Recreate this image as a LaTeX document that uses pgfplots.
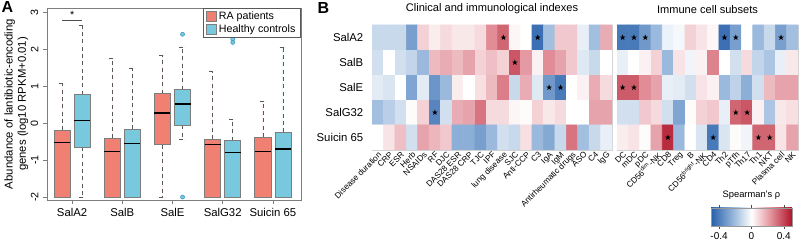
\documentclass[border=0pt]{standalone}
\usepackage{pgfplots}
\pgfplotsset{compat=1.18}
\usepgfplotslibrary{statistics}
\usepackage{fontspec}
\setmainfont{Liberation Sans}
\definecolor{ra}{RGB}{240,128,114}
\definecolor{hc}{RGB}{120,200,222}
\definecolor{hcdark}{RGB}{70,160,195}
\definecolor{frame}{RGB}{125,125,125}
\pgfplotsset{colormap={rdbu}{rgb255(0cm)=(40,95,170) rgb255(1cm)=(140,175,215) rgb255(2cm)=(255,255,255) rgb255(3cm)=(225,140,150) rgb255(4cm)=(175,20,40)}}
\pgfdeclareplotmark{fstar}{%
  \pgfpathmoveto{\pgfpointpolar{90}{\pgfplotmarksize}}%
  \pgfpathlineto{\pgfpointpolar{126}{0.4\pgfplotmarksize}}%
  \pgfpathlineto{\pgfpointpolar{162}{\pgfplotmarksize}}%
  \pgfpathlineto{\pgfpointpolar{198}{0.4\pgfplotmarksize}}%
  \pgfpathlineto{\pgfpointpolar{234}{\pgfplotmarksize}}%
  \pgfpathlineto{\pgfpointpolar{270}{0.4\pgfplotmarksize}}%
  \pgfpathlineto{\pgfpointpolar{306}{\pgfplotmarksize}}%
  \pgfpathlineto{\pgfpointpolar{342}{0.4\pgfplotmarksize}}%
  \pgfpathlineto{\pgfpointpolar{18}{\pgfplotmarksize}}%
  \pgfpathlineto{\pgfpointpolar{54}{0.4\pgfplotmarksize}}%
  \pgfpathclose
  \pgfusepathqfill}
\begin{document}
\begin{tikzpicture}
\useasboundingbox (0pt,0pt) rectangle (600pt,-183.75pt);
\node[anchor=north west, font=\bfseries\fontsize{12}{13}\selectfont, inner sep=0pt] at (1pt,-1pt) {A};
\node[anchor=north west, font=\bfseries\fontsize{12}{13}\selectfont, inner sep=0pt] at (238pt,-2pt) {B};
% ---------------- Panel A ----------------
\begin{axis}[
  at={(35.25pt,-150pt)}, anchor=south west, scale only axis,
  width=190.5pt, height=144pt,
  xmin=0.5, xmax=5.56, ymin=-2.08, ymax=3.11,
  xtick={1,2,3,4,5}, xticklabels={SalA2,SalB,SalE,SalG32,Suicin 65},
  ytick={-2,-1,0,1,2,3},
  xtick pos=bottom, ytick pos=left, tick align=outside, major tick length=3pt,
  tick style={frame, line width=0.5pt}, axis line style={frame, line width=0.6pt},
  yticklabel style={rotate=90, anchor=south, font=\fontsize{8}{9}\selectfont},
  xticklabel style={font=\fontsize{8.5}{10}\selectfont},
  /pgf/number format/assume math mode=true,
  ylabel={Abundance of lantibiotic-encoding\\genes (log10 RPKM+0.01)},
  ylabel style={align=center, font=\fontsize{8.5}{10}\selectfont, at={(axis description cs:-0.055,0.5)}, anchor=south, rotate=0},
  boxplot/draw direction=y,
  boxplot/box extend=0.32, boxplot/whisker extend=0.13,
  boxplot/every box/.style={draw=frame, line width=0.5pt},
  boxplot/every whisker/.style={draw=black!65, dash pattern=on 3pt off 2.5pt, line width=0.5pt},
  boxplot/every median/.style={draw=black, line width=1.1pt},
  legend image code/.code={\draw[#1] (0pt,-3.6pt) rectangle (7.2pt,3.6pt);},
  legend style={at={(1,1)}, anchor=north east, draw=black!65, font=\fontsize{8}{9}\selectfont,
    inner xsep=2pt, inner ysep=0.5pt, row sep=-1.5pt, cells={anchor=west}},
]
\addlegendimage{fill=ra, draw=frame}
\addlegendentry{RA patients}
\addlegendimage{fill=hc, draw=frame}
\addlegendentry{Healthy controls}
% SalA2
\addplot[boxplot prepared={draw position=0.8, lower whisker=-2, lower quartile=-2, median=-0.53, upper quartile=-0.2, upper whisker=1.08}, fill=ra, draw=frame, forget plot] coordinates {};
\addplot[boxplot prepared={draw position=1.2, lower whisker=-2, lower quartile=-0.65, median=0.07, upper quartile=0.77, upper whisker=2.65}, fill=hc, draw=frame, forget plot] coordinates {};
% SalB
\addplot[boxplot prepared={draw position=1.8, lower whisker=-2, lower quartile=-2, median=-0.77, upper quartile=-0.4, upper whisker=1.75}, fill=ra, draw=frame, forget plot] coordinates {};
\addplot[boxplot prepared={draw position=2.2, lower whisker=-2, lower quartile=-2, median=-0.55, upper quartile=-0.17, upper whisker=1.48}, fill=hc, draw=frame, forget plot] coordinates {};
% SalE
\addplot[boxplot prepared={draw position=2.8, lower whisker=-2, lower quartile=-0.58, median=0.27, upper quartile=0.79, upper whisker=1.82}, fill=ra, draw=frame, forget plot] coordinates {};
\addplot[boxplot prepared={draw position=3.2, lower whisker=-0.45, lower quartile=-0.06, median=0.51, upper quartile=0.9, upper whisker=2.06}, fill=hc, draw=frame, mark=*, mark size=1.5pt, mark options={draw=hcdark, fill=hc, solid, line width=0.5pt}, forget plot] coordinates {(0,2.4) (0,-2)};
% SalG32
\addplot[boxplot prepared={draw position=3.8, lower whisker=-2, lower quartile=-2, median=-0.58, upper quartile=-0.43, upper whisker=1.41}, fill=ra, draw=frame, forget plot] coordinates {};
\addplot[boxplot prepared={draw position=4.2, lower whisker=-2, lower quartile=-2, median=-0.80, upper quartile=-0.48, upper whisker=0.10}, fill=hc, draw=frame, mark=*, mark size=1.5pt, mark options={draw=hcdark, fill=hc, solid, line width=0.5pt}, forget plot] coordinates {(0,2.27) (0,2.18)};
% Suicin 65
\addplot[boxplot prepared={draw position=4.8, lower whisker=-2, lower quartile=-2, median=-0.77, upper quartile=-0.38, upper whisker=0.58}, fill=ra, draw=frame, forget plot] coordinates {};
\addplot[boxplot prepared={draw position=5.2, lower whisker=-2, lower quartile=-2, median=-0.70, upper quartile=-0.25, upper whisker=2.04}, fill=hc, draw=frame, forget plot] coordinates {};
% significance
\addplot[black!70, line width=0.6pt, forget plot] coordinates {(0.8,2.78) (1.2,2.78)};
\node[font=\fontsize{8}{9}\selectfont] at (axis cs:1,2.93) {*};
\end{axis}
% ---------------- Panel B left ----------------
\begin{axis}[
  at={(279pt,-112.5pt)}, anchor=south west, scale only axis,
  width=180pt, height=93.75pt,
  xmin=-0.5, xmax=20.5, ymin=-0.5, ymax=4.5, y dir=reverse, enlargelimits=false,
  colormap name=rdbu, point meta min=-0.5, point meta max=0.5,
  xtick={0,...,20},
  xticklabels={Disease duration,CRP,ESR,Herb,NSAIDs,RF,DJC,DAS28 ESR,DAS28 CRP,TJC,IPF,lung disease,SJC,Anti-CCP,C3,IgA,IgM,Antirheumatic drugs,ASO,C4,IgG},
  ytick={0,...,4}, yticklabels={SalA2,SalB,SalE,SalG32,Suicin 65},
  major tick length=0pt, tick style={draw=none}, axis line style={gray!35},
  xticklabel style={rotate=45, anchor=north east, inner sep=0.5pt, font=\fontsize{6.2}{7}\selectfont},
  yticklabel style={font=\fontsize{8.5}{10}\selectfont, xshift=-3pt},
  title={Clinical and immunological indexes}, title style={font=\fontsize{8.3}{10}\selectfont, yshift=-1pt},
]
\addplot[matrix plot*, mesh/cols=21, mesh/rows=5, point meta=explicit] table[row sep=\\, meta=c] {
x y c\\
0 0 -0.12\\ 1 0 -0.12\\ 2 0 -0.12\\ 3 0 -0.30\\ 4 0 0.10\\ 5 0 0.04\\ 6 0 0.08\\ 7 0 0.05\\ 8 0 0.05\\ 9 0 0.08\\ 10 0 0.25\\ 11 0 0.33\\ 12 0 0.02\\ 13 0 0.00\\ 14 0 -0.45\\ 15 0 -0.20\\ 16 0 0.12\\ 17 0 0.12\\ 18 0 -0.05\\ 19 0 -0.20\\ 20 0 0.18\\
0 1 -0.10\\ 1 1 0.00\\ 2 1 -0.10\\ 3 1 -0.13\\ 4 1 -0.22\\ 5 1 0.15\\ 6 1 0.18\\ 7 1 0.15\\ 8 1 0.20\\ 9 1 0.10\\ 10 1 0.14\\ 11 1 0.10\\ 12 1 0.36\\ 13 1 0.22\\ 14 1 0.03\\ 15 1 0.25\\ 16 1 0.20\\ 17 1 0.12\\ 18 1 -0.07\\ 19 1 -0.12\\ 20 1 0.00\\
0 2 -0.06\\ 1 2 -0.08\\ 2 2 0.00\\ 3 2 -0.28\\ 4 2 -0.06\\ 5 2 -0.33\\ 6 2 -0.22\\ 7 2 0.04\\ 8 2 0.00\\ 9 2 0.07\\ 10 2 0.15\\ 11 2 0.28\\ 12 2 -0.12\\ 13 2 0.18\\ 14 2 -0.07\\ 15 2 -0.32\\ 16 2 -0.42\\ 17 2 0.00\\ 18 2 0.03\\ 19 2 0.18\\ 20 2 0.08\\
0 3 -0.20\\ 1 3 -0.15\\ 2 3 -0.10\\ 3 3 0.01\\ 4 3 0.10\\ 5 3 -0.38\\ 6 3 -0.10\\ 7 3 0.18\\ 8 3 0.20\\ 9 3 0.30\\ 10 3 0.08\\ 11 3 0.08\\ 12 3 0.02\\ 13 3 0.01\\ 14 3 0.10\\ 15 3 0.05\\ 16 3 0.08\\ 17 3 0.00\\ 18 3 0.00\\ 19 3 0.20\\ 20 3 0.20\\
0 4 0.00\\ 1 4 0.06\\ 2 4 0.14\\ 3 4 -0.10\\ 4 4 0.20\\ 5 4 0.16\\ 6 4 0.12\\ 7 4 -0.25\\ 8 4 -0.25\\ 9 4 -0.30\\ 10 4 -0.22\\ 11 4 -0.10\\ 12 4 -0.12\\ 13 4 0.07\\ 14 4 -0.22\\ 15 4 -0.27\\ 16 4 -0.12\\ 17 4 0.30\\ 18 4 -0.20\\ 19 4 -0.12\\ 20 4 -0.05\\
};
\addplot[only marks, mark=fstar, mark size=2.3pt, black] coordinates {(11,0) (14,0) (12,1) (15,2) (16,2) (5,3)};
\end{axis}
% ---------------- Panel B right ----------------
\begin{axis}[
  at={(462.75pt,-112.5pt)}, anchor=south west, scale only axis,
  width=135.75pt, height=93.75pt,
  xmin=-0.5, xmax=15.5, ymin=-0.5, ymax=4.5, y dir=reverse, enlargelimits=false,
  colormap name=rdbu, point meta min=-0.5, point meta max=0.5,
  xtick={0,...,15},
  xticklabels={DC,mDC,pDC,CD56\textsuperscript{dim}-NK,CD8,Treg,B,CD56\textsuperscript{bright}-NK,CD4,Th2,pTfh,Th17,Th1,NKT,Plasma cell,NK},
  ytick=\empty,
  major tick length=0pt, tick style={draw=none}, axis line style={gray!35},
  xticklabel style={rotate=45, anchor=north east, inner sep=0.5pt, font=\fontsize{6.2}{7}\selectfont},
  title={Immune cell subsets}, title style={font=\fontsize{8.3}{10}\selectfont, yshift=-1pt},
  colorbar horizontal,
  colorbar style={at={(0.519,-0.464)}, anchor=north west, scale only axis,
    width=60.75pt, height=13.5pt,
    xtick={-0.4,0,0.4}, major tick length=2pt, tick align=outside,
    tick style={draw=black!70},
    axis line style={draw=black!40},
    xticklabel style={font=\fontsize{7.5}{8}\selectfont, inner sep=1pt, yshift=-2pt},
    /pgf/number format/assume math mode=true,
    title={Spearman's ρ}, title style={font=\fontsize{7}{8}\selectfont, yshift=-3pt}},
]
\addplot[matrix plot*, mesh/cols=16, mesh/rows=5, point meta=explicit] table[row sep=\\, meta=c] {
x y c\\
0 0 -0.42\\ 1 0 -0.42\\ 2 0 -0.32\\ 3 0 -0.22\\ 4 0 -0.04\\ 5 0 -0.02\\ 6 0 0.10\\ 7 0 0.06\\ 8 0 0.02\\ 9 0 -0.45\\ 10 0 -0.30\\ 11 0 0.00\\ 12 0 -0.22\\ 13 0 -0.12\\ 14 0 -0.30\\ 15 0 -0.20\\
0 1 -0.05\\ 1 1 0.00\\ 2 1 0.03\\ 3 1 0.10\\ 4 1 -0.22\\ 5 1 0.06\\ 6 1 -0.03\\ 7 1 0.03\\ 8 1 0.27\\ 9 1 0.00\\ 10 1 -0.10\\ 11 1 0.08\\ 12 1 -0.13\\ 13 1 -0.18\\ 14 1 -0.05\\ 15 1 0.05\\
0 2 0.35\\ 1 2 0.35\\ 2 2 0.25\\ 3 2 0.20\\ 4 2 -0.05\\ 5 2 -0.06\\ 6 2 -0.10\\ 7 2 0.06\\ 8 2 0.03\\ 9 2 -0.22\\ 10 2 -0.14\\ 11 2 -0.25\\ 12 2 -0.10\\ 13 2 0.15\\ 14 2 0.20\\ 15 2 0.20\\
0 3 -0.10\\ 1 3 -0.10\\ 2 3 0.12\\ 3 3 0.08\\ 4 3 -0.10\\ 5 3 -0.28\\ 6 3 0.01\\ 7 3 0.10\\ 8 3 0.12\\ 9 3 -0.05\\ 10 3 0.33\\ 11 3 0.36\\ 12 3 0.03\\ 13 3 -0.18\\ 14 3 0.05\\ 15 3 0.07\\
0 4 0.04\\ 1 4 0.06\\ 2 4 0.01\\ 3 4 0.20\\ 4 4 0.45\\ 5 4 -0.22\\ 6 4 0.00\\ 7 4 -0.08\\ 8 4 -0.42\\ 9 4 -0.08\\ 10 4 0.01\\ 11 4 -0.03\\ 12 4 0.33\\ 13 4 0.33\\ 14 4 0.06\\ 15 4 0.20\\
};
\addplot[only marks, mark=fstar, mark size=2.3pt, black] coordinates {(0,0) (1,0) (2,0) (9,0) (10,0) (14,0) (0,2) (1,2) (10,3) (11,3) (4,4) (8,4) (12,4) (13,4)};
\end{axis}
\end{tikzpicture}
\end{document}
